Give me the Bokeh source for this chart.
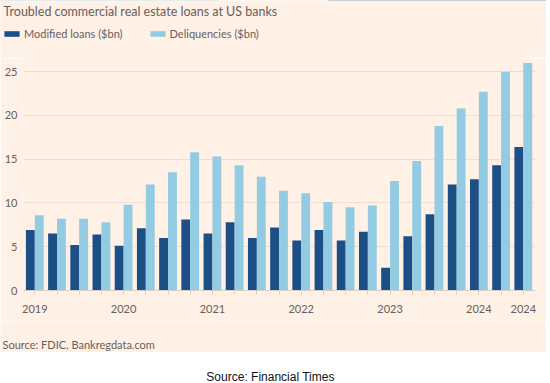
from bokeh.plotting import figure
from bokeh.models import ColumnDataSource, FixedTicker, Legend, LegendItem, Label, Range1d
from bokeh.transform import dodge
from bokeh.layouts import column, row
from bokeh.embed import file_html
from bokeh.resources import INLINE

# ---- data (quarterly, 2019 Q1 .. 2024 Q3) ----
quarters = ["2019Q1", "2019Q2", "2019Q3", "2019Q4",
            "2020Q1", "2020Q2", "2020Q3", "2020Q4",
            "2021Q1", "2021Q2", "2021Q3", "2021Q4",
            "2022Q1", "2022Q2", "2022Q3", "2022Q4",
            "2023Q1", "2023Q2", "2023Q3", "2023Q4",
            "2024Q1", "2024Q2", "2024Q3"]
modified = [6.9, 6.5, 5.2, 6.4, 5.1, 7.1, 6.0, 8.1, 6.5, 7.8, 6.0, 7.2,
            5.7, 6.9, 5.7, 6.7, 2.6, 6.2, 8.7, 12.1, 12.7, 14.3, 16.4]
delinquencies = [8.6, 8.2, 8.2, 7.8, 9.8, 12.1, 13.5, 15.8, 15.3, 14.3, 13.0, 11.4,
                 11.1, 10.1, 9.5, 9.7, 12.5, 14.8, 18.8, 20.8, 22.7, 25.0, 26.0]
tick_labels = ["2019", "", "", "", "2020", "", "", "", "2021", "", "", "",
               "2022", "", "", "", "2023", "", "", "", "2024", "", "2024"]
y_ticks = [0, 5, 10, 15, 20, 25]

DARK = "#1d4f87"
LIGHT = "#93cce2"
BG = "#FFF1E5"
TXT = "#66605c"
FONT = "Lato"
W = 546

idx = list(range(len(quarters)))
src = ColumnDataSource(dict(idx=idx, q=quarters, modified=modified, delinquencies=delinquencies))


def panel(height, fill, y_range=(0, 1)):
    f = figure(width=W, height=height, x_range=Range1d(0, 1), y_range=Range1d(*y_range),
               x_axis_type=None, y_axis_type=None, min_border=0,
               min_border_left=0, min_border_right=0, min_border_top=0, min_border_bottom=0,
               title=None, output_backend="svg", toolbar_location=None)
    f.border_fill_color = fill
    f.background_fill_color = fill
    f.outline_line_color = None
    return f


# ---- header: title + legend (legend keys use the same series, kept out of view) ----
head = panel(58, BG, y_range=(-2, -1))
head.add_layout(Label(x=3, y=55, x_units="screen", y_units="screen",
                      text="Troubled commercial real estate loans at US banks",
                      text_baseline="top", text_font=FONT, text_font_size="12.5px",
                      text_color=TXT))
d1 = head.vbar(x=dodge("idx", -0.2), top="modified", width=0.4, source=src,
               fill_color=DARK, line_color=None)
d2 = head.vbar(x=dodge("idx", 0.2), top="delinquencies", width=0.4, source=src,
               fill_color=LIGHT, line_color=None)
legend = Legend(items=[LegendItem(label="Modified loans ($bn)", renderers=[d1]),
                       LegendItem(label="Deliquencies ($bn)", renderers=[d2])],
                orientation="horizontal", location=(2, 18),
                padding=0, margin=0, spacing=25, label_standoff=3,
                glyph_width=19, glyph_height=7, label_height=7,
                border_line_color=None, background_fill_alpha=0,
                label_text_font=FONT, label_text_font_size="11px",
                label_text_color=TXT)
head.add_layout(legend)

# ---- main chart ----
p = figure(width=W, height=262, x_range=Range1d(-0.509, 22.55), y_range=Range1d(0, 26.5),
           output_backend="svg", toolbar_location=None, title=None,
           min_border_left=23, min_border_right=11, min_border_top=0, min_border_bottom=30)
p.border_fill_color = BG
p.background_fill_color = BG
p.outline_line_color = None

p.vbar(x=dodge("idx", -0.2), top="modified", width=0.4, source=src,
       fill_color=DARK, line_color=None)
p.vbar(x=dodge("idx", 0.2), top="delinquencies", width=0.4, source=src,
       fill_color=LIGHT, line_color=None)

p.xgrid.visible = False
p.ygrid.ticker = FixedTicker(ticks=y_ticks)
p.ygrid.grid_line_color = "#ecdfd3"

p.yaxis.ticker = FixedTicker(ticks=y_ticks)
p.yaxis.axis_line_color = None
p.yaxis.major_tick_line_color = None
p.yaxis.major_tick_in = 0
p.yaxis.major_tick_out = 0
p.yaxis.minor_tick_line_color = None
p.yaxis.minor_tick_out = 0
p.yaxis.major_label_standoff = 6
p.yaxis.major_label_text_font = FONT
p.yaxis.major_label_text_font_size = "11px"
p.yaxis.major_label_text_color = TXT

p.xaxis.ticker = FixedTicker(ticks=idx)
p.xaxis.major_label_overrides = {i: lab for i, lab in zip(idx, tick_labels)}
p.xaxis.axis_line_color = "#d9cec5"
p.xaxis.major_tick_line_color = "#d9cec5"
p.xaxis.major_tick_in = 0
p.xaxis.major_tick_out = 4
p.xaxis.minor_tick_line_color = None
p.xaxis.major_label_standoff = 10
p.xaxis.major_label_text_font = FONT
p.xaxis.major_label_text_font_size = "11px"
p.xaxis.major_label_text_color = TXT

# ---- footer (source inside the panel) ----
foot = panel(32, BG)
foot.add_layout(Label(x=2, y=8, x_units="screen", y_units="screen",
                      text="Source: FDIC, Bankregdata.com",
                      text_baseline="alphabetic", text_font=FONT, text_font_size="11px",
                      text_color=TXT))

# ---- white caption below ----
cap = panel(31, "white")
cap.add_layout(Label(x=270, y=7, x_units="screen", y_units="screen",
                     text="Source: Financial Times", text_align="center",
                     text_baseline="alphabetic", text_font="Liberation Sans",
                     text_font_size="12px", text_color="#111111"))

# each strip wrapped on its own so that the plot frames are not aligned with each other
layout = column(row(head), row(p), row(foot), row(cap), spacing=0)
open("out.html", "w").write(file_html(layout, INLINE))
